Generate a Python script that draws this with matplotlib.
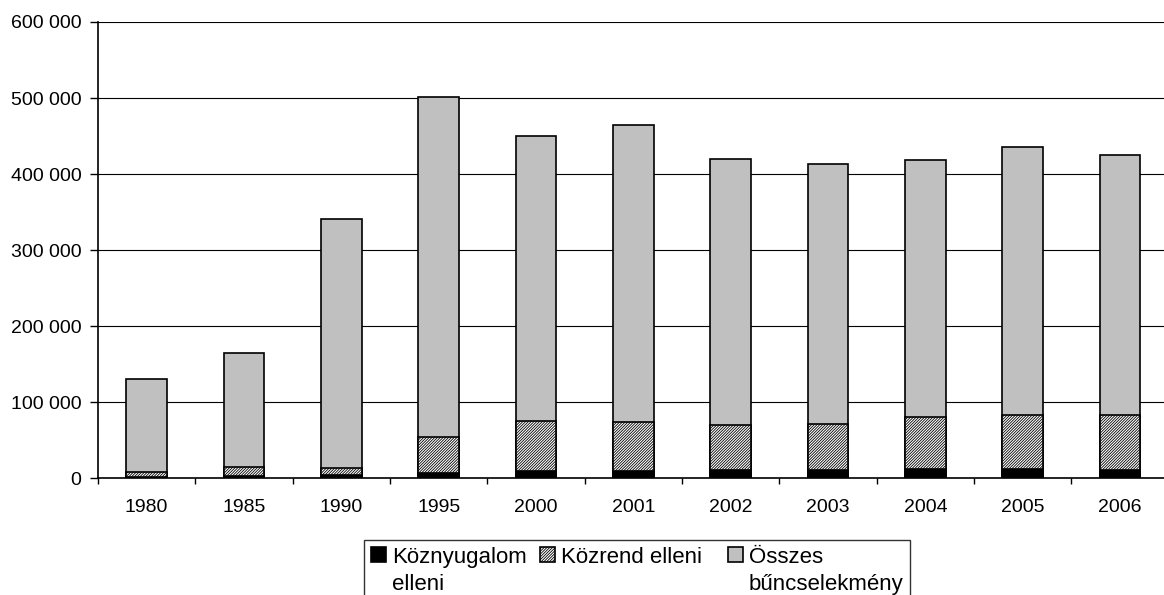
import numpy as np
import matplotlib.pyplot as plt
from matplotlib.ticker import FuncFormatter, FixedLocator
from matplotlib.legend_handler import HandlerPatch
from matplotlib.patches import Rectangle

plt.rcParams["font.family"] = ["Liberation Sans", "DejaVu Sans"]
plt.rcParams["hatch.linewidth"] = 0.6

years = ["1980", "1985", "1990", "1995", "2000", "2001", "2002", "2003", "2004", "2005", "2006"]
osszes = [130000, 165000, 341000, 502000, 450000, 465000, 420000, 413500, 418500, 436000, 425500]
kozrend = [8700, 14900, 13900, 54300, 75800, 74100, 70100, 71000, 80300, 83300, 83300]
koznyugalom = [2100, 3000, 4700, 7400, 10000, 10000, 11300, 11300, 12200, 12200, 10900]

W, H = 1164, 595
fig = plt.figure(figsize=(W / 100, H / 100), dpi=100)
ax = fig.add_axes([98 / W, 1 - 478.3 / H, 1 - 98 / W, (478.3 - 22) / H])

x = np.arange(len(years))
bw = 0.417

# overlapping bars: total behind, then the two subsets
b_ossz = ax.bar(x, osszes, bw, color="#c0c0c0", edgecolor="black", linewidth=1.2, zorder=2)
b_kozr = ax.bar(x, kozrend, bw, color="white", edgecolor="black", hatch="/" * 12,
                linewidth=1.2, zorder=3)
b_kozny = ax.bar(x, koznyugalom, bw, color="black", edgecolor="black", linewidth=1.2, zorder=4)

ax.set_ylim(0, 600000)
ax.set_xlim(-0.5, -0.5 + (W - 98.35) / 97.3)
ax.set_yticks(np.arange(0, 600001, 100000))
ax.yaxis.set_major_formatter(FuncFormatter(lambda v, p: f"{int(v):,}".replace(",", " ")))
ax.grid(axis="y", color="black", linewidth=0.8, zorder=1)
ax.set_axisbelow(True)

ax.set_xticks(x)
ax.set_xticklabels(years)
ax.xaxis.set_minor_locator(FixedLocator(np.arange(-0.5, len(years) + 0.5, 1)))
ax.tick_params(axis="x", which="major", length=0, pad=15, labelsize=14)
ax.tick_params(axis="x", which="minor", length=4.5, width=1, direction="out")
ax.tick_params(axis="y", length=6, width=1, direction="out", pad=6, labelsize=14)

for s in ["top", "right"]:
    ax.spines[s].set_visible(False)
ax.spines["left"].set_linewidth(1.2)
ax.spines["bottom"].set_linewidth(1.2)
ax.spines["bottom"].set_zorder(5)


# legend squares sit on the first text line, as in the original
LINE_SHIFT = 12


def top_square(legend, orig_handle, xdescent, ydescent, width, height, fontsize):
    return Rectangle((-xdescent, -ydescent + LINE_SHIFT), width, height)


leg_labels = ["Köznyugalom\nelleni", "Közrend elleni  \n ", "Összes\nbűncselekmény"]
leg_handles = [b_kozny.patches[0], b_kozr.patches[0], b_ossz.patches[0]]
leg = fig.legend(leg_handles, leg_labels,
                 handler_map={h: HandlerPatch(patch_func=top_square) for h in leg_handles},
                 loc="upper left", bbox_to_anchor=(364 / W, 1 - 540 / H),
                 ncol=3, fontsize=16, frameon=True, fancybox=False,
                 edgecolor="black", handlelength=0.68, handleheight=0.68,
                 handletextpad=0.27, columnspacing=0.6, borderpad=0.3,
                 borderaxespad=0)
leg.get_frame().set_linewidth(1.0)
for t in leg.get_texts():
    t.set_linespacing(1.42)

fig.savefig("out.png", dpi=100)
